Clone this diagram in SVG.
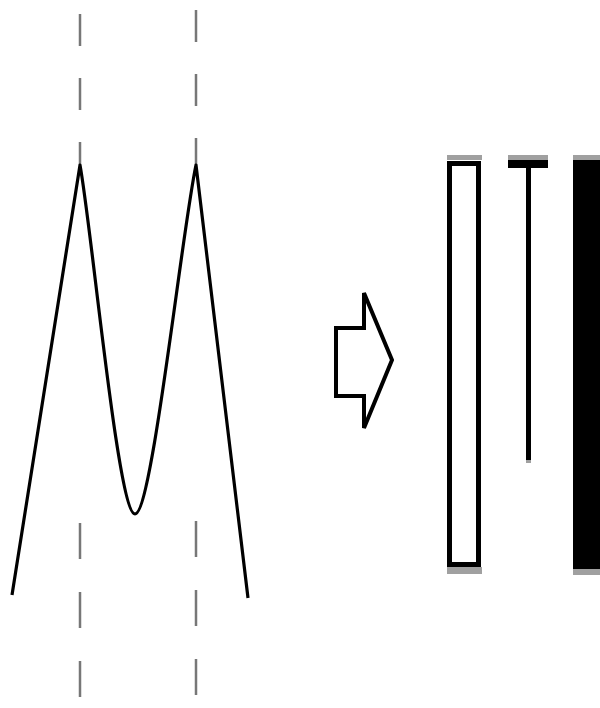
<svg xmlns="http://www.w3.org/2000/svg" width="600" height="708" viewBox="0 0 600 708">
<style>
.dash{stroke:#777;stroke-width:2.5;stroke-dasharray:32 32;fill:none}
.dash2{stroke:#777;stroke-width:2.5;stroke-dasharray:36 33;fill:none}
.curve{stroke:#000;stroke-width:3.2;fill:none;stroke-linejoin:round}
.shadow{fill:#a0a0a0}
</style>
<rect width="600" height="708" fill="#fff"/>
<g id="guides">
<line class="dash" x1="80" y1="14" x2="80" y2="165"/>
<line class="dash" x1="196" y1="10" x2="196" y2="165"/>
<line class="dash2" x1="80" y1="523" x2="80" y2="708"/>
<line class="dash2" x1="196" y1="521" x2="196" y2="708"/>
</g>
<g id="m-curve">
<path class="curve" d="M12,595 L80,165 C92,230 118,514 135,514 C152,514 182,230 196,165 L248,598"/>
</g>
<g id="arrow">
<polygon points="336,328 364,328 364,293 392,360 364,428 364,396 336,396" fill="#fff" stroke="#000" stroke-width="4" stroke-linejoin="miter"/>
</g>
<g id="hollow-bar">
<rect class="shadow" x="447" y="155" width="35" height="5"/>
<rect x="449.5" y="163.5" width="29" height="401" fill="#fff" stroke="#000" stroke-width="5"/>
<rect class="shadow" x="447" y="567" width="35" height="7"/>
</g>
<g id="t-line">
<rect class="shadow" x="508" y="155" width="40" height="5"/>
<rect x="508" y="160" width="40" height="8" fill="#000"/>
<rect x="526" y="160" width="5" height="300" fill="#000"/>
<rect class="shadow" x="526" y="460" width="5" height="3"/>
</g>
<g id="solid-bar">
<rect class="shadow" x="573" y="155" width="27" height="5"/>
<rect x="573" y="160" width="27" height="409" fill="#000"/>
<rect class="shadow" x="573" y="569" width="27" height="6"/>
</g>
</svg>
